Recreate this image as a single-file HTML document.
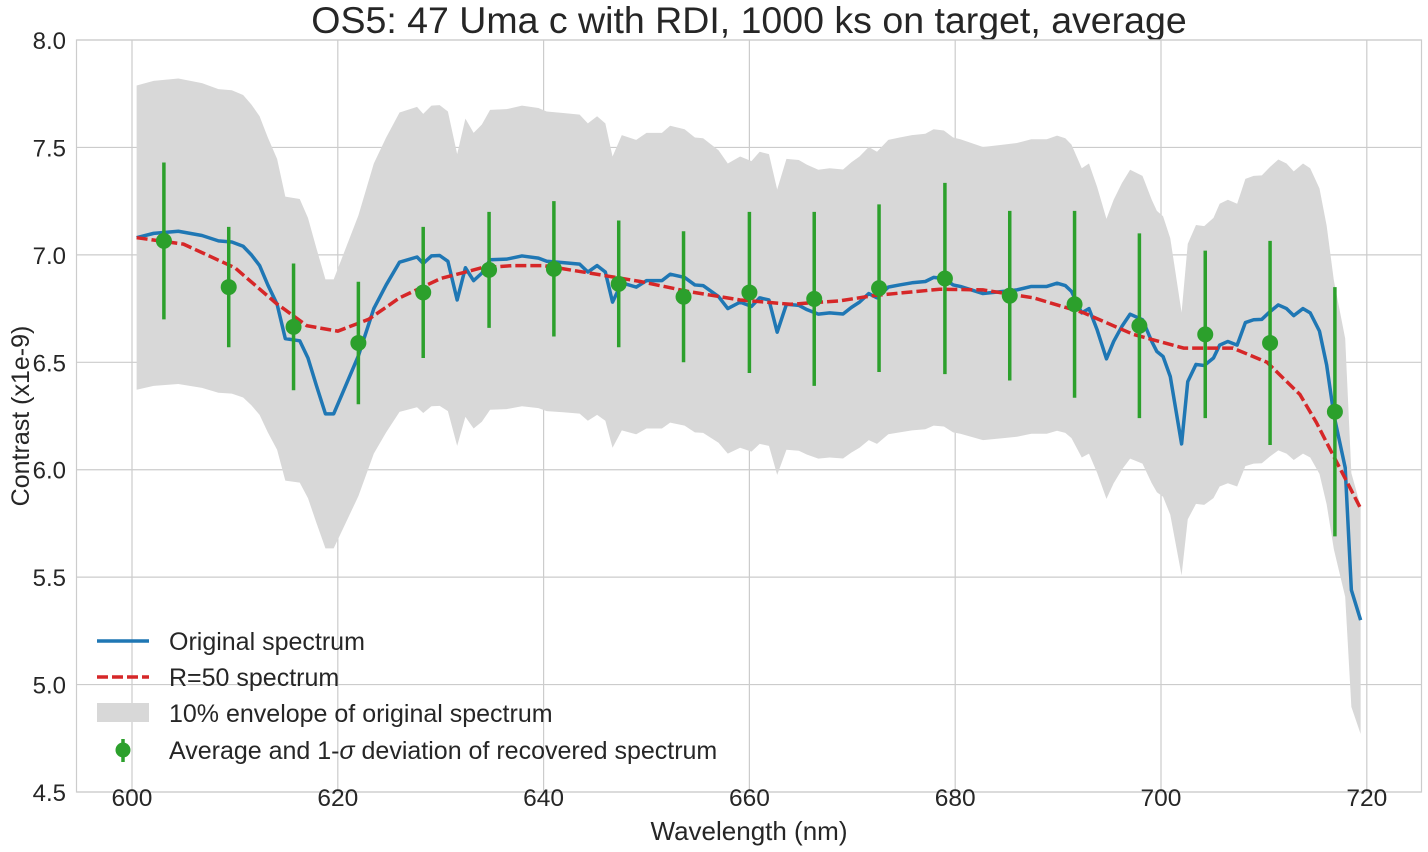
<!DOCTYPE html>
<html><head><meta charset="utf-8"><style>
html,body{margin:0;padding:0;background:#fff;}
svg{display:block;font-family:"Liberation Sans","DejaVu Sans",sans-serif;}
</style></head><body>
<svg id="chart" width="1428" height="852" viewBox="0 0 1428 852" xmlns="http://www.w3.org/2000/svg">
<text x="749" y="33" font-size="37.5" text-anchor="middle" fill="#262626">OS5: 47 Uma c with RDI, 1000 ks on target, average</text>
<g id="grid"></g>
<g id="plot"></g>
<rect x="76.5" y="40" width="1345" height="752" fill="none" stroke="#cccccc" stroke-width="1.2"/>
<g id="ticks"></g>
<text x="749" y="840" font-size="26" text-anchor="middle" fill="#262626">Wavelength (nm)</text>
<text transform="translate(29,416) rotate(-90)" font-size="25" text-anchor="middle" fill="#262626">Contrast (x1e-9)</text>
<g font-size="25" fill="#262626">
  <g>
    <line x1="97" y1="641" x2="149" y2="641" stroke="#1f77b4" stroke-width="3.5"/>
    <text x="169" y="650">Original spectrum</text></g>
  <g>
    <line x1="97" y1="677" x2="149" y2="677" stroke="#d62728" stroke-width="3.5" stroke-dasharray="11,4"/>
    <text x="169" y="686">R=50 spectrum</text></g>
  <g>
    <rect x="97" y="703" width="52" height="19" fill="#d8d8d8"/>
    <text x="169" y="722">10% envelope of original spectrum</text></g>
  <g>
    <line x1="123" y1="739" x2="123" y2="762" stroke="#2ca02c" stroke-width="3.5"/>
    <circle cx="123" cy="750" r="7.5" fill="#2ca02c"/>
    <text x="169" y="759">Average and 1-<tspan font-style="italic">σ</tspan> deviation of recovered spectrum</text></g>
</g>
</svg>
<script>
const origNm=[600.45,602.1,604.5,606.8,608.4,609.7,610.8,611.6,612.4,613.2,614.1,614.9,616.3,617.1,617.9,618.8,619.6,620.4,622.0,623.5,624.7,626.0,627.7,628.3,629.1,629.9,630.7,631.6,632.4,633.2,634.0,634.8,636.4,637.9,639.5,640.3,641.9,643.5,644.3,645.2,646.0,646.7,647.6,649.0,650.0,651.5,652.3,653.7,654.7,655.5,657.0,657.9,659.1,660.2,661.0,661.9,662.7,663.6,664.8,665.6,666.7,667.8,669.1,669.9,670.7,671.6,672.4,673.5,674.6,675.8,677.1,677.9,678.9,679.8,680.5,682.7,684.7,686.0,687.4,688.9,689.9,690.7,691.3,692.3,693.0,693.8,694.7,695.4,696.2,697.0,698.2,699.1,699.6,700.2,700.9,702.0,702.6,703.4,704.2,705.1,705.7,706.5,707.4,708.2,709.0,709.8,710.6,711.4,712.2,712.9,713.8,714.5,715.4,716.1,716.8,717.9,718.5,719.4];
const origVal=[7.08,7.10,7.11,7.09,7.065,7.06,7.04,7.0,6.95,6.86,6.77,6.61,6.60,6.52,6.395,6.26,6.26,6.35,6.53,6.75,6.86,6.966,6.99,6.96,6.995,6.997,6.97,6.79,6.94,6.88,6.915,6.977,6.98,6.995,6.985,6.97,6.964,6.957,6.92,6.95,6.92,6.78,6.87,6.85,6.88,6.88,6.91,6.895,6.86,6.857,6.806,6.75,6.78,6.76,6.80,6.79,6.64,6.77,6.765,6.745,6.724,6.73,6.725,6.755,6.78,6.82,6.80,6.85,6.86,6.87,6.876,6.895,6.89,6.86,6.853,6.82,6.83,6.837,6.853,6.853,6.868,6.857,6.83,6.73,6.75,6.65,6.516,6.597,6.667,6.724,6.698,6.597,6.55,6.527,6.434,6.12,6.41,6.49,6.485,6.52,6.58,6.597,6.58,6.685,6.698,6.70,6.736,6.767,6.75,6.717,6.75,6.73,6.645,6.487,6.255,6.01,5.44,5.30];
const r50Nm=[600.45,605,610,614,617,620,623,626,630,634,637,640,644.5,649.4,654,659.1,664,668.8,672,678.5,682.7,687.6,692.5,697.3,702.2,707,710.3,713.5,715.1,716.7,718.0,719.4];
const r50Val=[7.08,7.05,6.94,6.775,6.67,6.645,6.70,6.80,6.89,6.94,6.95,6.95,6.915,6.876,6.83,6.79,6.77,6.786,6.81,6.84,6.837,6.80,6.73,6.63,6.566,6.566,6.50,6.35,6.22,6.07,5.95,5.82];
const recNm=[603.1,609.4,615.7,622.0,628.3,634.7,641.0,647.3,653.6,660.0,666.3,672.6,679.0,685.3,691.6,697.9,704.3,710.6,716.9];
const recVal=[7.065,6.85,6.665,6.59,6.825,6.93,6.935,6.865,6.805,6.825,6.795,6.845,6.89,6.81,6.77,6.67,6.63,6.59,6.27];
const recSigma=[0.365,0.28,0.295,0.285,0.305,0.27,0.315,0.295,0.305,0.375,0.405,0.39,0.445,0.395,0.435,0.43,0.39,0.475,0.58];
const xTicks=[600,620,640,660,680,700,720];
const yTicks=[4.5,5.0,5.5,6.0,6.5,7.0,7.5,8.0];
const envFrac=0.10;

const NS="http://www.w3.org/2000/svg";
const X=nm=>132+(nm-600)*(1234.8/120);
const Y=v=>40+(8-v)*214.86;
function mk(tag,attrs,parent){const e=document.createElementNS(NS,tag);for(const k in attrs)e.setAttribute(k,attrs[k]);parent.appendChild(e);return e;}
const gridG=document.getElementById('grid'),plotG=document.getElementById('plot'),ticksG=document.getElementById('ticks');
xTicks.forEach(t=>{
  const l=mk('line',{x1:X(t),x2:X(t),y1:40,y2:792,stroke:'#cccccc','stroke-width':1.2},gridG);
  
  
  const tx=mk('text',{x:X(t),y:806,'font-size':24.5,'text-anchor':'middle',fill:'#262626'},ticksG);
  tx.textContent=t;
  
  
});
yTicks.forEach(t=>{
  const l=mk('line',{x1:76.5,x2:1421.5,y1:Y(t),y2:Y(t),stroke:'#cccccc','stroke-width':1.2},gridG);
  
  
  const tx=mk('text',{x:66,y:Y(t)+9,'font-size':24,'text-anchor':'end',fill:'#262626'},ticksG);
  tx.textContent=t.toFixed(1);
  
  
});
const envTop=origNm.map((n,i)=>X(n)+','+Y(origVal[i]*(1+envFrac)));
const envBot=origNm.map((n,i)=>X(n)+','+Y(origVal[i]*(1-envFrac))).reverse();
const env=mk('polygon',{points:envTop.concat(envBot).join(' '),fill:'#d8d8d8'},plotG);


const orig=mk('polyline',{points:origNm.map((n,i)=>X(n)+','+Y(origVal[i])).join(' '),fill:'none',stroke:'#1f77b4','stroke-width':3.5,'stroke-linejoin':'round'},plotG);


const r50=mk('polyline',{points:r50Nm.map((n,i)=>X(n)+','+Y(r50Val[i])).join(' '),fill:'none',stroke:'#d62728','stroke-width':3.5,'stroke-dasharray':'11,4'},plotG);


recNm.forEach((n,i)=>{
  const b=mk('line',{x1:X(n),x2:X(n),y1:Y(recVal[i]+recSigma[i]),y2:Y(recVal[i]-recSigma[i]),stroke:'#2ca02c','stroke-width':3.5},plotG);
  
  
  const c=mk('circle',{cx:X(n),cy:Y(recVal[i]),r:8,fill:'#2ca02c'},plotG);
  
  
});
</script>
</body></html>
